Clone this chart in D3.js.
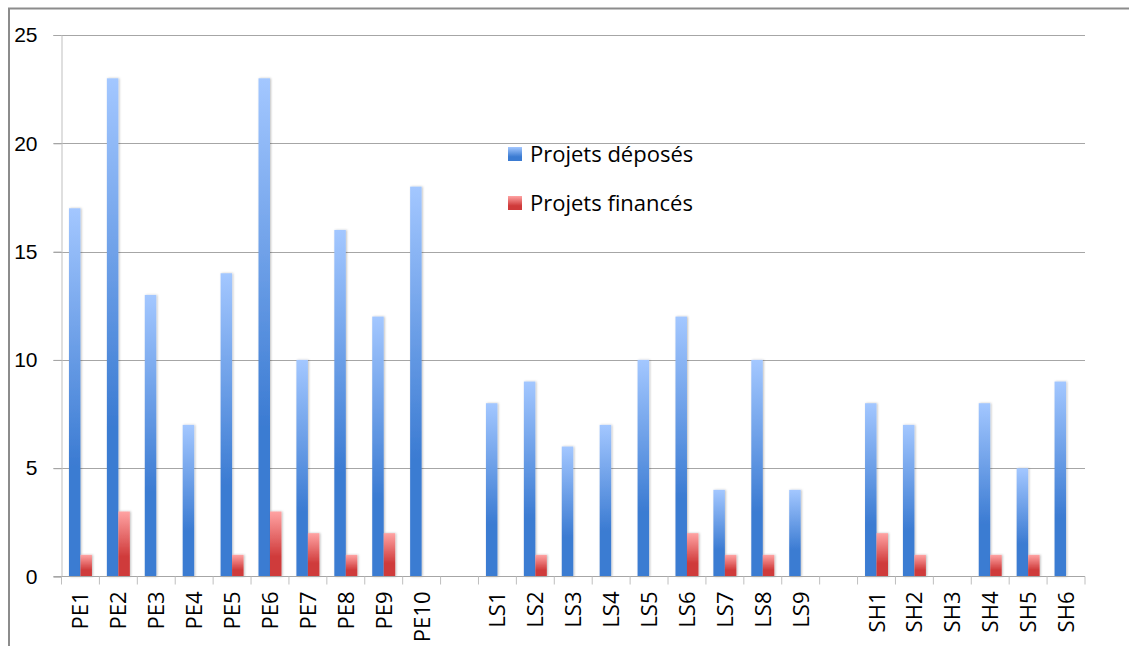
<!DOCTYPE html>
<html>
<head>
<meta charset="utf-8">
<script src="https://cdn.jsdelivr.net/npm/d3@7"></script>
<style>
  body { margin: 0; background: #fff; }
  svg { display: block; font-family: "Open Sans", "Noto Sans", sans-serif; }
</style>
</head>
<body>
<svg id="chart"></svg>
<script>
var width = 1129;
var height = 646;

// categories, "" marks the empty slots between the groups
var categories = ["PE1", "PE2", "PE3", "PE4", "PE5", "PE6", "PE7", "PE8", "PE9", "PE10", "",
  "LS1", "LS2", "LS3", "LS4", "LS5", "LS6", "LS7", "LS8", "LS9", "",
  "SH1", "SH2", "SH3", "SH4", "SH5", "SH6"];
var deposes = [17, 23, 13, 7, 14, 23, 10, 16, 12, 18, 0,
  8, 9, 6, 7, 10, 12, 4, 10, 4, 0,
  8, 7, 0, 8, 5, 9];
var finances = [1, 3, 0, 0, 1, 3, 2, 1, 2, 0, 0,
  0, 1, 0, 0, 0, 2, 1, 1, 0, 0,
  2, 1, 0, 1, 1, 0];
var seriesNames = ["Projets déposés", "Projets financés"];
var yTicks = [0, 5, 10, 15, 20, 25];

var margin = {left: 61.5, right: 44, top: 35, bottom: 69};

var svg = d3.select("#chart").attr("width", width).attr("height", height);

// gradients for the bars (light on top, dark at the bottom)
var defs = svg.append("defs");
var grads = [
  {id: "gradBlue", top: "#a3c7ff", bottom: "#3b7bd2"},
  {id: "gradRed", top: "#ffa3a3", bottom: "#cf3a3a"}
];
grads.forEach(function (g) {
  var lg = defs.append("linearGradient").attr("id", g.id)
    .attr("x1", "0%").attr("x2", "0%").attr("y1", "0%").attr("y2", "100%");
  lg.append("stop").attr("offset", "0%").attr("stop-color", g.top);
  lg.append("stop").attr("offset", "70%").attr("stop-color", g.bottom);
  lg.append("stop").attr("offset", "100%").attr("stop-color", g.bottom);
});
var shadow = defs.append("filter").attr("id", "shadow")
  .attr("x", "-30%").attr("y", "-5%").attr("width", "160%").attr("height", "110%");
shadow.append("feDropShadow").attr("dx", 1).attr("dy", 0).attr("stdDeviation", 0.8)
  .attr("flood-color", "#000").attr("flood-opacity", 0.25);

// outer frame (top and left edges only visible)
svg.append("path")
  .attr("d", "M9,646 V8.5 H1129")
  .attr("fill", "none").attr("stroke", "#8c8c8c").attr("stroke-width", 2);

var x = d3.scaleBand()
  .domain(d3.range(categories.length))
  .range([margin.left, width - margin.right])
  .padding(0);

var x1 = d3.scaleBand()
  .domain([0, 1])
  .range([0, x.bandwidth()])
  .paddingInner(0)
  .paddingOuter(0.65);

var y = d3.scaleLinear()
  .domain([0, 25])
  .range([height - margin.bottom - 0.5, margin.top]);

// gridlines
svg.append("g")
  .selectAll("line")
  .data(yTicks.filter(function (d) { return d > 0; }))
  .enter().append("line")
  .attr("x1", margin.left - 8).attr("x2", width - margin.right)
  .attr("y1", function (d) { return Math.round(y(d)) + 0.5; })
  .attr("y2", function (d) { return Math.round(y(d)) + 0.5; })
  .attr("stroke", "#a6a6a6").attr("stroke-width", 1);

// y axis
var yAxis = svg.append("g")
  .attr("transform", "translate(" + margin.left + ",0)")
  .call(d3.axisLeft(y).tickValues(yTicks).tickSize(8).tickPadding(16));
yAxis.select(".domain").attr("stroke", "#bfbfbf");
yAxis.selectAll(".tick line").attr("stroke", "#a6a6a6");
yAxis.selectAll(".tick text")
  .attr("fill", "#000").style("font-size", "21px");

// bars
var seriesData = [deposes, finances];
var fills = ["url(#gradBlue)", "url(#gradRed)"];
seriesData.forEach(function (values, s) {
  var pts = values.map(function (v, i) { return {i: i, v: v}; })
    .filter(function (d) { return d.v > 0; });
  svg.append("g")
    .selectAll("rect")
    .data(pts)
    .enter().append("rect")
    .attr("x", function (d) { return x(d.i) + x1(s); })
    .attr("width", x1.bandwidth())
    .attr("y", function (d) { return y(d.v); })
    .attr("height", function (d) { return y(0) - y(d.v); })
    .attr("fill", fills[s])
    .attr("filter", "url(#shadow)");
});

// x axis
var xAxisG = svg.append("g")
  .attr("transform", "translate(0," + y(0) + ")");
xAxisG.append("line")
  .attr("x1", margin.left - 8).attr("x2", width - margin.right)
  .attr("y1", 0).attr("y2", 0)
  .attr("stroke", "#a6a6a6");
var bounds = d3.range(categories.length + 1).map(function (i) {
  return margin.left + i * x.step();
});
xAxisG.selectAll("line.tick")
  .data(bounds)
  .enter().append("line")
  .attr("class", "tick")
  .attr("x1", function (d) { return d; }).attr("x2", function (d) { return d; })
  .attr("y1", 0).attr("y2", 8)
  .attr("stroke", "#bfbfbf");
xAxisG.selectAll("text")
  .data(categories)
  .enter().append("text")
  .attr("transform", function (d, i) {
    return "translate(" + (x(i) + x.bandwidth() / 2 + 8) + ",15) rotate(-90)";
  })
  .attr("text-anchor", "end")
  .style("font-size", "22px")
  .attr("fill", "#000")
  .text(function (d) { return d; });

// legend
var legend = svg.append("g").attr("transform", "translate(508,147)");
seriesNames.forEach(function (name, i) {
  var row = legend.append("g").attr("transform", "translate(0," + (i * 49) + ")");
  row.append("rect").attr("width", 14).attr("height", 14).attr("fill", fills[i]);
  row.append("text").attr("x", 22).attr("y", 15)
    .style("font-size", "22px").attr("fill", "#000").text(name);
});
</script>
</body>
</html>
